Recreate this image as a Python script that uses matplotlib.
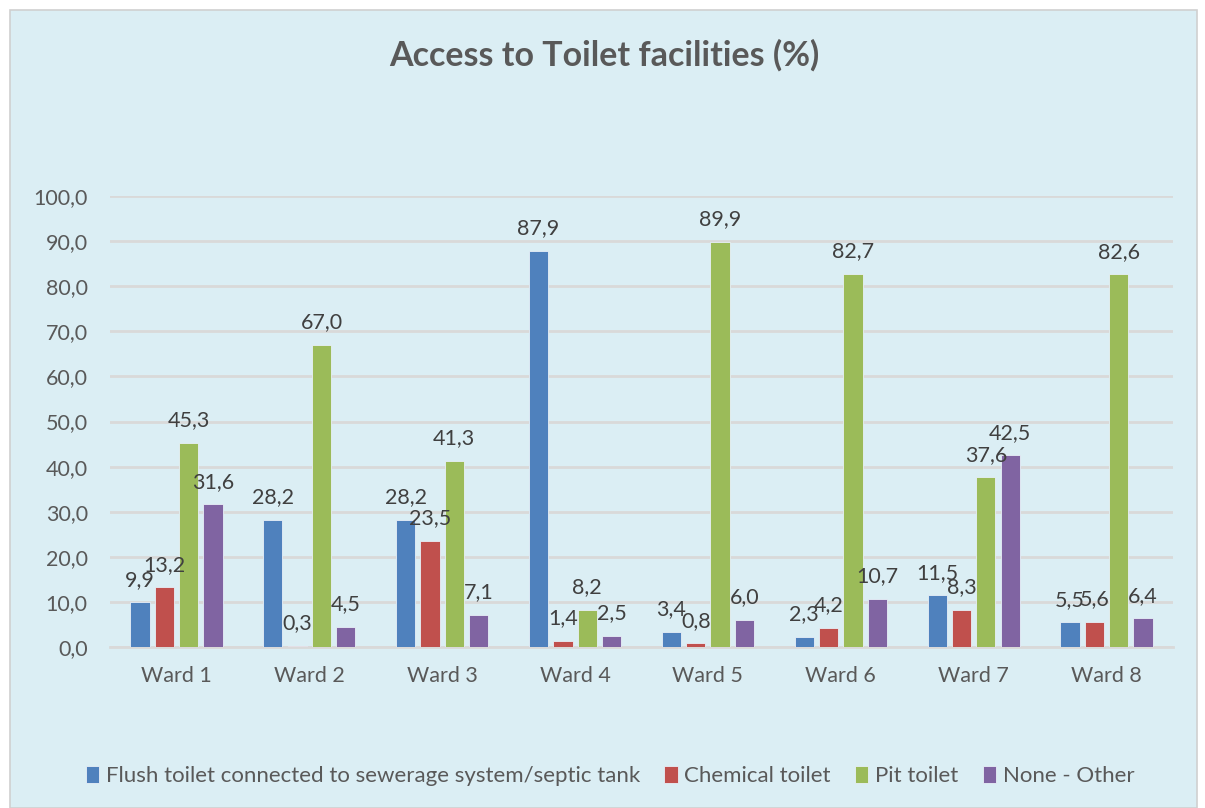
import matplotlib
matplotlib.use("Agg")
import matplotlib.pyplot as plt
import numpy as np
from matplotlib.patches import Rectangle

wards = ["Ward 1", "Ward 2", "Ward 3", "Ward 4", "Ward 5", "Ward 6", "Ward 7", "Ward 8"]
series_names = ["Flush toilet connected to sewerage system/septic tank",
                "Chemical toilet", "Pit toilet", "None - Other"]
flush = [9.9, 28.2, 28.2, 87.9, 3.4, 2.3, 11.5, 5.5]
chemical = [13.2, 0.3, 23.5, 1.4, 0.8, 4.2, 8.3, 5.6]
pit = [45.3, 67.0, 41.3, 8.2, 89.9, 82.7, 37.6, 82.6]
none_other = [31.6, 4.5, 7.1, 2.5, 6.0, 10.7, 42.5, 6.4]
colors = ["#4F81BD", "#C0504D", "#9BBB59", "#8064A2"]
yticks = [0, 10, 20, 30, 40, 50, 60, 70, 80, 90, 100]

plt.rcParams['font.family'] = ['Lato', 'DejaVu Sans']
bg = "#DBEEF4"
fig = plt.figure(figsize=(12.05, 8.08), dpi=100, facecolor="white")
# panel
panel = Rectangle((10/1205, 0), 1187/1205, 1 - 10/808, transform=fig.transFigure,
                  facecolor=bg, edgecolor="#D0D0D0", linewidth=1.2, zorder=-10)
fig.add_artist(panel)

ax = fig.add_axes([110/1205, 1 - 647/808, 1063/1205, (647 - 196)/808])
ax.set_zorder(1)
ax.patch.set_alpha(0)

x = np.arange(len(wards))
w = 0.145
step = 0.183
data = [flush, chemical, pit, none_other]
for i, (vals, c, name) in enumerate(zip(data, colors, series_names)):
    pos = x + (i - 1.5) * step
    ax.bar(pos, vals, width=w, color=c, edgecolor="#E8F0F8", linewidth=0.6,
           label=name, zorder=3)
    for p, v in zip(pos, vals):
        ax.annotate(f"{v:.1f}".replace(".", ","), (p, v), xytext=(0, 9),
                    textcoords="offset points", ha="center", va="bottom",
                    fontsize=15.5, color="#404040", zorder=4)

ax.set_xlim(-0.5, len(wards) - 0.5)
ax.set_ylim(0, 100)
ax.set_yticks(yticks)
ax.set_yticklabels([f"{t:.1f}".replace(".", ",") for t in yticks], fontsize=15.5, color="#595959")
ax.set_xticks(x)
ax.set_xticklabels(wards, fontsize=15.5, color="#595959")
ax.tick_params(axis="both", length=0)
ax.tick_params(axis="y", pad=16)
ax.tick_params(axis="x", pad=14)
ax.yaxis.grid(True, color="#D9D9D9", linewidth=2, zorder=0)
ax.set_axisbelow(True)
for s in ["top", "right", "left"]:
    ax.spines[s].set_visible(False)
ax.spines["bottom"].set_color("#D9D9D9")
ax.spines["bottom"].set_linewidth(2)

fig.text(604/1205, 1 - 55/808, "Access to Toilet facilities (%)", ha="center", va="center",
         fontsize=24.5, fontweight="bold", color="#595959")

handles, labels = ax.get_legend_handles_labels()
leg = fig.legend(handles, labels, loc="center", bbox_to_anchor=(610/1205, 1 - 776/808),
                 ncol=4, frameon=False, fontsize=16, handlelength=0.6, handleheight=0.8,
                 handletextpad=0.3, columnspacing=1.1, labelcolor="#595959")

fig.savefig("out.png", dpi=100, facecolor="white")
